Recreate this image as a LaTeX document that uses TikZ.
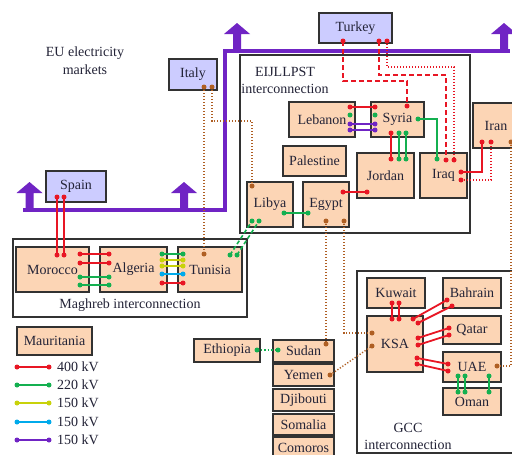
\documentclass[tikz,border=0pt]{standalone}
\usepackage{fontspec}
\setmainfont{Liberation Serif}
\definecolor{peach}{RGB}{252,213,181}
\definecolor{lav}{RGB}{204,204,255}
\definecolor{cred}{RGB}{232,22,36}
\definecolor{cgrn}{RGB}{20,176,80}
\definecolor{cyel}{RGB}{200,210,10}
\definecolor{ccya}{RGB}{0,170,235}
\definecolor{cpur}{RGB}{112,36,196}
\definecolor{cbrn}{RGB}{175,95,35}
\definecolor{ink}{RGB}{35,35,55}
\definecolor{edge}{RGB}{50,50,50}
\newcommand\bx[7]{\node[#7, minimum width={(#4-#2)*1pt}, minimum height={(#5-#3)*1pt}] (#1) at ({(#2+#4)/2},{(#3+#5)/2}) {#6};}
\newcommand\cp[3]{\coordinate (#1) at (#2,#3);}
\newcommand\lk[3]{\draw[#1] (#2) node[dn]{} -- (#3) node[dn]{};}
\newcommand\uparr[2]{\fill[cpur] ({#1-4},{#2}) -- ({#1-4},{#2-17}) -- ({#1-13},{#2-17}) -- ({#1},{#2-28}) -- ({#1+13},{#2-17}) -- ({#1+4},{#2-17}) -- ({#1+4},{#2}) -- cycle;}
\begin{document}
\begin{tikzpicture}[x=1pt,y=-1pt,
 every node/.style={font=\fontsize{14}{17}\selectfont, text=ink},
 cbox/.style={draw=edge, line width=1.3pt, fill=peach, inner sep=0pt},
 ebox/.style={draw=edge, line width=1.3pt, fill=lav, inner sep=0pt},
 frame/.style={draw=edge, line width=1.1pt, inner sep=0pt},
 lbl/.style={inner sep=0pt, align=center},
 dn/.style={circle, fill, inner sep=0pt, minimum size=5pt},
 cx/.style={line width=1.8pt},
 dsh/.style={line width=1.9pt, dash pattern=on 5pt off 3pt},
 dts/.style={line width=1.3pt, dash pattern=on 1.3pt off 1.7pt},
 gdsh/.style={cgrn, line width=1.6pt, dash pattern=on 4pt off 2.5pt},
 brn/.style={cbrn, line width=1.4pt, dash pattern=on 1.2pt off 1.8pt},
]
\useasboundingbox (0,0) rectangle (512,455);
\fill[white] (0,0) rectangle (512,455);
% frames
\bx{eij}{240}{55}{470}{233}{}{frame}
\bx{magh}{13}{239}{247}{317}{}{frame}
\bx{gcc}{357}{271}{520}{453}{}{frame}
% purple EU bus
\draw[cpur, line width=4pt] (23,210) -- (225,210) -- (225,51) -- (510,51);
\uparr{29.5}{210}
\uparr{184}{210}
\uparr{237}{51}
\uparr{504}{51}
% labels
\node[lbl, font=\fontsize{14}{18}\selectfont] (eulbl) at (85,61) {EU electricity\\markets};
\node[lbl] (eijlbl) at (285,80.5) {EIJLLPST\\interconnection};
\node[lbl] (maglbl) at (130,305) {Maghreb interconnection};
\node[lbl] (gcclbl) at (408,436.5) {GCC\\interconnection};
% boxes
\bx{spain}{46}{171}{106}{202}{Spain}{ebox}
\bx{italy}{169}{59}{217}{90}{Italy}{ebox}
\bx{turkey}{319}{13}{392}{43}{Turkey}{ebox}
\bx{lebanon}{289}{102}{355}{137}{Lebanon}{cbox}
\bx{syria}{371}{102}{424}{137}{Syria}{cbox}
\bx{palestine}{283}{146}{346}{176}{Palestine}{cbox}
\bx{jordan}{357}{153}{414}{198}{Jordan}{cbox}
\bx{iraq}{420}{153}{467}{198}{Iraq}{cbox}
\bx{iran}{473}{103}{519}{148}{Iran}{cbox}
\bx{libya}{247}{182}{293}{227}{Libya}{cbox}
\bx{egypt}{303}{182}{349}{227}{Egypt}{cbox}
\bx{morocco}{16}{247}{89}{292}{Morocco}{cbox}
\bx{algeria}{100}{247}{167}{292}{Algeria}{cbox}
\bx{tunisia}{178}{247}{242}{292}{Tunisia}{cbox}
\bx{mauritania}{17}{327}{92}{355}{Mauritania}{cbox}
\bx{ethiopia}{194}{339}{260}{362}{Ethiopia}{cbox}
\bx{sudan}{273}{340}{334}{362}{Sudan}{cbox}
\bx{yemen}{273}{364}{334}{386}{Yemen}{cbox}
\bx{djibouti}{273}{389}{334}{411}{Djibouti}{cbox}
\bx{somalia}{273}{414}{334}{435}{Somalia}{cbox}
\bx{comoros}{273}{437}{334}{459}{Comoros}{cbox}
\bx{kuwait}{367}{278}{425}{308}{Kuwait}{cbox}
\bx{bahrain}{443}{278}{501}{308}{Bahrain}{cbox}
\bx{ksa}{367}{316}{423}{372}{KSA}{cbox}
\bx{qatar}{443}{316}{501}{344}{Qatar}{cbox}
\bx{uae}{443}{352}{501}{382}{UAE}{cbox}
\bx{oman}{443}{388}{501}{415}{Oman}{cbox}
% connection points
\cp{sp1}{57}{197}\cp{sp2}{64}{197}\cp{mo1}{57}{255}\cp{mo2}{64}{255}
\cp{ma1}{80}{254}\cp{ma2}{80}{263}\cp{ma3}{80}{277}\cp{ma4}{80}{285}
\cp{am1}{109}{254}\cp{am2}{109}{263}\cp{am3}{109}{277}\cp{am4}{109}{285}
\cp{at1}{162}{254}\cp{at2}{162}{260}\cp{at3}{162}{266}\cp{at4}{162}{274}\cp{at5}{162}{283}
\cp{ta1}{183}{254}\cp{ta2}{183}{260}\cp{ta3}{183}{266}\cp{ta4}{183}{274}\cp{ta5}{183}{283}
\cp{tl1}{230}{255}\cp{tl2}{237}{255}\cp{lt1}{252}{221}\cp{lt2}{259}{221}
\cp{it1}{204}{87}\cp{it2}{212}{87}\cp{tu1}{204}{254}\cp{ly1}{252}{186}
\cp{ly2}{284}{213}\cp{eg1}{308}{213}
\cp{eg2}{343}{192}\cp{jo1}{367}{192}
\cp{eg3}{326}{221}\cp{eg4}{344}{221}\cp{su1}{326}{344}\cp{ks1}{372}{333}
\cp{ye1}{330}{375}\cp{ks2}{372}{346}
\cp{lb1}{350}{107}\cp{sy1}{375}{107}\cp{lb3}{350}{124}\cp{sy3}{375}{124}\cp{lb4}{350}{130}\cp{sy4}{375}{130}
\cp{sy5}{391}{133}\cp{sy6}{399}{133}\cp{sy7}{406}{133}\cp{jo2}{391}{159}\cp{jo3}{399}{159}\cp{jo4}{406}{159}
\cp{sy8}{418}{119}\cp{iq1}{437}{159}
\cp{tk1}{343}{41}\cp{tk2}{379}{41}\cp{tk3}{387}{41}\cp{sy9}{407}{106}\cp{iq2}{446}{160}\cp{iq3}{454}{160}
\cp{iq4}{461}{172}\cp{iq5}{461}{180}\cp{ir1}{482}{142}\cp{ir2}{491}{142}
\cp{ir3}{511}{142}\cp{ua1}{497}{366}
\cp{et1}{257}{350}\cp{su2}{278}{350}
\cp{kw1}{392}{303}\cp{kw2}{399}{303}\cp{ks3}{392}{319}\cp{ks4}{399}{319}
\cp{ks5}{413}{319}\cp{ks6}{418}{323}\cp{bh1}{447}{300}\cp{bh2}{452}{306}
\cp{ks7}{418}{338}\cp{ks8}{418}{345}\cp{qa1}{449}{328}\cp{qa2}{449}{335}
\cp{ks9}{417}{358}\cp{ks10}{417}{364}\cp{ua2}{448}{364}\cp{ua3}{448}{371}
\cp{ua4}{458}{376}\cp{ua5}{465}{376}\cp{ua6}{489}{376}\cp{om1}{458}{392}\cp{om2}{465}{392}\cp{om3}{489}{392}
% Maghreb links
\lk{cx,cred}{sp1}{mo1}\lk{cx,cred}{sp2}{mo2}
\lk{cx,cred}{ma1}{am1}\lk{cx,cred}{ma2}{am2}\lk{cx,cgrn}{ma3}{am3}\lk{cx,cgrn}{ma4}{am4}
\lk{cx,cgrn}{at1}{ta1}\lk{cx,cyel}{at2}{ta2}\lk{cx,cyel}{at3}{ta3}\lk{cx,ccya}{at4}{ta4}\lk{cx,cred}{at5}{ta5}
\lk{gdsh}{tl1}{lt1}\lk{gdsh}{tl2}{lt2}
% Italy
\lk{brn}{it1}{tu1}
\draw[brn] (it2) node[dn]{} -- ++(0,34) -| (ly1) node[dn]{};
% EIJLLPST
\lk{cx,cgrn}{ly2}{eg1}
\lk{cx,cred}{eg2}{jo1}
\lk{brn}{eg3}{su1}
\draw[brn] (eg4) node[dn]{} |- (ks1) node[dn]{};
\lk{brn}{ye1}{ks2}
\lk{cx,cred}{lb1}{sy1}
\node[dn,cgrn] (lbg) at (350,115) {};
\node[dn,cgrn] (syg) at (375,115) {};
\lk{cx,cpur}{lb3}{sy3}\lk{cx,cpur}{lb4}{sy4}
\lk{cx,cred}{sy5}{jo2}\lk{cx,cgrn}{sy6}{jo3}\lk{cx,cgrn}{sy7}{jo4}
\draw[cx,cgrn] (sy8) node[dn]{} -| (iq1) node[dn]{};
\draw[dsh,cred] (tk1) node[dn]{} -- ++(0,40) -| (sy9) node[dn]{};
\draw[dsh,cred] (tk2) node[dn]{} -- ++(0,34) -| (iq2) node[dn]{};
\draw[dts,cred] (tk3) node[dn]{} -- ++(0,26) -| (iq3) node[dn]{};
\draw[cx,cred] (iq4) node[dn]{} -| (ir1) node[dn]{};
\draw[dts,cred] (iq5) node[dn]{} -| (ir2) node[dn]{};
\draw[brn] (ir3) node[dn]{} |- (ua1) node[dn]{};
\draw[cgrn, line width=1.6pt, dash pattern=on 1.5pt off 2pt] (et1) node[dn]{} -- (su2) node[dn]{};
% GCC
\lk{cx,cred}{kw1}{ks3}\lk{cx,cred}{kw2}{ks4}
\lk{cx,cred}{ks5}{bh1}\lk{cx,cred}{ks6}{bh2}
\lk{cx,cred}{ks7}{qa1}\lk{cx,cred}{ks8}{qa2}
\lk{cx,cred}{ks9}{ua2}\lk{cx,cred}{ks10}{ua3}
\lk{cx,cgrn}{ua4}{om1}\lk{cx,cgrn}{ua5}{om2}\lk{cx,cgrn}{ua6}{om3}
% legend
\cp{lg1a}{17}{367}\cp{lg1b}{49}{367}
\cp{lg2a}{17}{385}\cp{lg2b}{49}{385}
\cp{lg3a}{17}{403}\cp{lg3b}{49}{403}
\cp{lg4a}{17}{422}\cp{lg4b}{49}{422}
\cp{lg5a}{17}{440}\cp{lg5b}{49}{440}
\lk{cx,cred}{lg1a}{lg1b}
\lk{cx,cgrn}{lg2a}{lg2b}
\lk{cx,cyel}{lg3a}{lg3b}
\lk{cx,ccya}{lg4a}{lg4b}
\lk{line width=2.6pt,cpur}{lg5a}{lg5b}
\node[lbl, anchor=west] (lt1) at (57,367) {400 kV};
\node[lbl, anchor=west] (lt2) at (57,385) {220 kV};
\node[lbl, anchor=west] (lt3) at (57,403) {150 kV};
\node[lbl, anchor=west] (lt4) at (57,422) {150 kV};
\node[lbl, anchor=west] (lt5) at (57,440) {150 kV};
\end{tikzpicture}
\end{document}
